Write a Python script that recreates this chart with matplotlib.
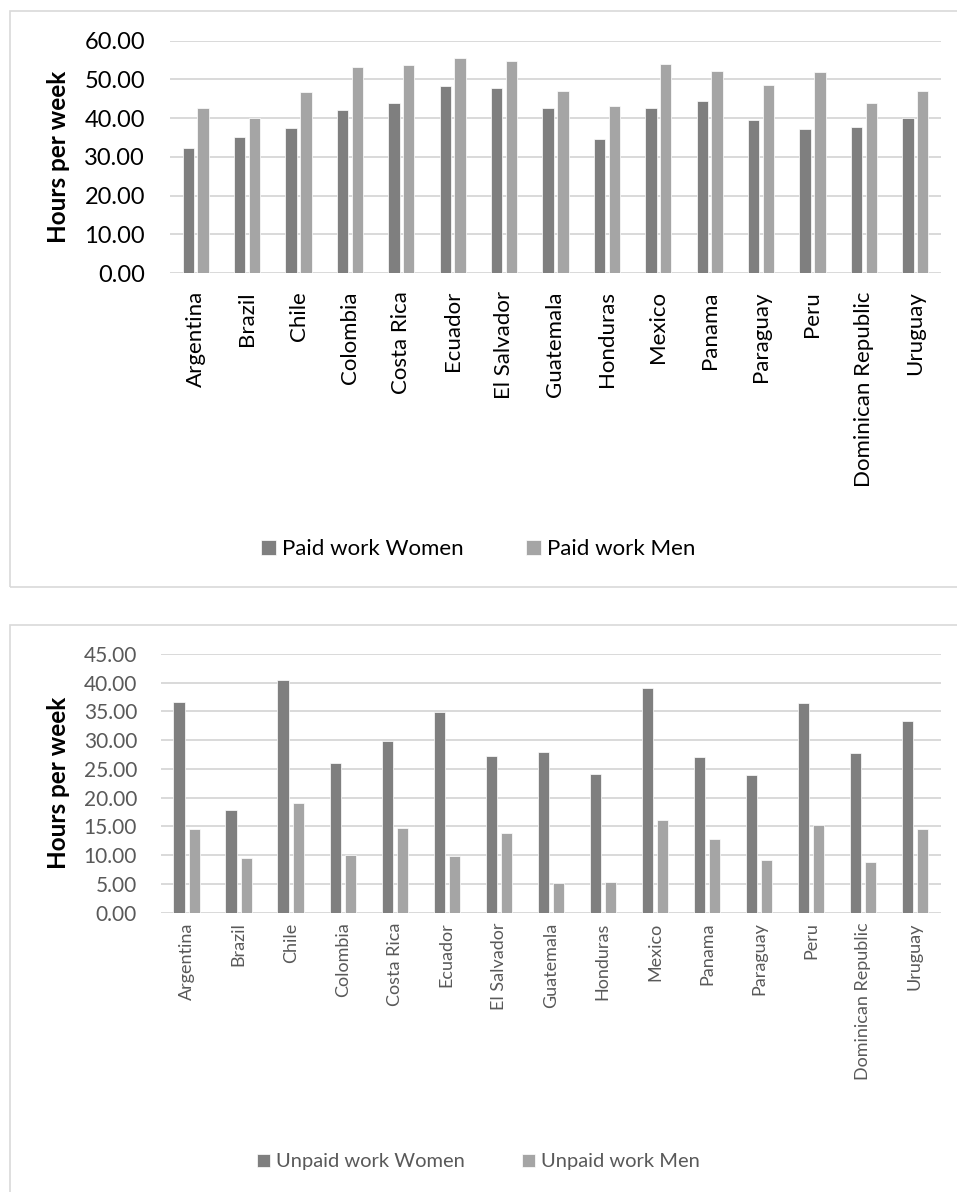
import numpy as np
import matplotlib
matplotlib.use('Agg')
import matplotlib.pyplot as plt
from matplotlib.patches import Rectangle

plt.rcParams['font.family'] = ['Lato', 'DejaVu Sans']

countries = ['Argentina', 'Brazil', 'Chile', 'Colombia', 'Costa Rica', 'Ecuador',
             'El Salvador', 'Guatemala', 'Honduras', 'Mexico', 'Panama', 'Paraguay',
             'Peru', 'Dominican Republic', 'Uruguay']

paid_women = [32.2, 35.2, 37.5, 42.0, 44.0, 48.4, 47.7, 42.7, 34.5, 42.6, 44.4, 39.6, 37.1, 37.8, 40.0]
paid_men = [42.6, 40.1, 46.8, 53.3, 53.8, 55.5, 54.8, 47.0, 43.2, 53.9, 52.2, 48.6, 51.9, 43.9, 47.0]

unpaid_women = [36.7, 17.9, 40.5, 26.0, 29.8, 34.9, 27.2, 27.9, 24.2, 39.1, 27.0, 23.9, 36.4, 27.7, 33.3]
unpaid_men = [14.5, 9.5, 19.0, 10.0, 14.8, 9.8, 13.9, 5.1, 5.35, 16.2, 12.9, 9.1, 15.3, 8.8, 14.5]

paid_ticks = [0, 10, 20, 30, 40, 50, 60]
unpaid_ticks = [0, 5, 10, 15, 20, 25, 30, 35, 40, 45]

dark = '#7f7f7f'
light = '#a5a5a5'
grid = '#d9d9d9'


def bar_panel(fig, rect, women, men, ticks, ysize, xsize, txtcolor, xpad, ypad, labx):
    ax = fig.add_axes(rect)
    x = np.arange(len(countries))
    w = 0.22
    b1 = ax.bar(x - 0.145, women, w, color=dark, edgecolor='white', linewidth=0.5, zorder=3)
    b2 = ax.bar(x + 0.145, men, w, color=light, edgecolor='white', linewidth=0.5, zorder=3)
    ax.set_xlim(-0.5, len(countries) - 0.5)
    ax.set_ylim(ticks[0], ticks[-1])
    ax.set_yticks(ticks)
    ax.set_yticklabels(['%.2f' % t for t in ticks])
    ax.set_xticks(x)
    ax.set_xticklabels(countries, rotation=90, va='top', ha='center')
    for s in ax.spines.values():
        s.set_visible(False)
    ax.grid(axis='y', color=grid, linewidth=1.4, zorder=0)
    ax.tick_params(axis='both', length=0, colors=txtcolor)
    ax.tick_params(axis='x', pad=xpad, labelsize=xsize)
    ax.tick_params(axis='y', pad=ypad, labelsize=ysize)
    ax.set_ylabel('Hours per week', fontsize=17.5, fontweight='bold', color='black')
    ax.yaxis.set_label_coords(labx, 0.5)
    return ax, b1, b2


fig = plt.figure(figsize=(9.57, 11.92), dpi=100)
W, H = 957.0, 1192.0

# chart frames
fig.add_artist(Rectangle((10 / W, 1 - 587 / H), 960 / W, 576 / H, transform=fig.transFigure,
                         fill=False, edgecolor=grid, linewidth=1.2))
fig.add_artist(Rectangle((10 / W, 1 - 1200 / H), 960 / W, 575 / H, transform=fig.transFigure,
                         fill=False, edgecolor=grid, linewidth=1.2))

ax1, p1, p2 = bar_panel(fig, [170 / W, 1 - 273 / H, 771 / W, 232.3 / H],
                        paid_women, paid_men, paid_ticks, 17, 16, 'black', 13, 18, -0.13)
fig.legend([p1, p2], ['Paid work Women', 'Paid work Men'], loc='center',
           bbox_to_anchor=(0.5, 1 - 549 / H), ncol=2, frameon=False, fontsize=16,
           handlelength=0.65, handleheight=0.65, handletextpad=0.3, columnspacing=2.8)

ax2, u1, u2 = bar_panel(fig, [160.7 / W, 1 - 912.7 / H, 780.3 / W, 258.7 / H],
                        unpaid_women, unpaid_men, unpaid_ticks, 15, 13, '#595959', 7, 17, -0.116)
fig.legend([u1, u2], ['Unpaid work Women', 'Unpaid work Men'], loc='center',
           bbox_to_anchor=(0.5, 1 - 1162 / H), ncol=2, frameon=False, fontsize=14.5,
           labelcolor='#595959', handlelength=0.65, handleheight=0.65, handletextpad=0.3,
           columnspacing=2.8)

fig.savefig('out.png', dpi=100)
